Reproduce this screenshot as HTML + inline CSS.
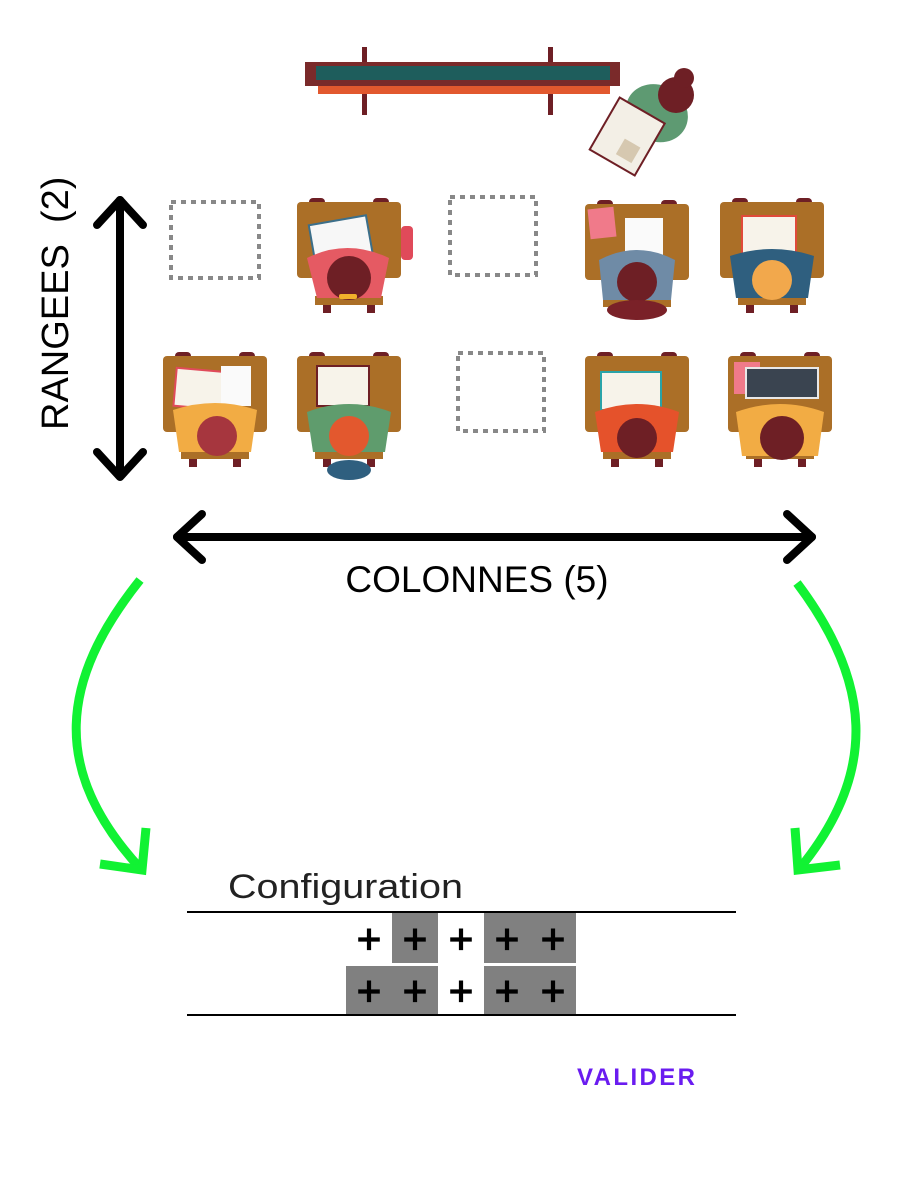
<!DOCTYPE html>
<html><head><meta charset="utf-8"><style>
html,body{margin:0;padding:0;background:#fff;}
body{width:900px;height:1200px;position:relative;overflow:hidden;font-family:"Liberation Sans",sans-serif;}
</style></head><body>
<svg width="900" height="1200" viewBox="0 0 900 1200" xmlns="http://www.w3.org/2000/svg" style="position:absolute;left:0;top:0">
<defs>
<g id="desk">
  <rect x="12" y="0" width="16" height="8" rx="4" fill="#6e1f25"/>
  <rect x="76" y="0" width="16" height="8" rx="4" fill="#6e1f25"/>
  <rect x="0" y="4" width="104" height="76" rx="4" fill="#ab6f27"/>
  <rect x="18" y="98" width="68" height="9" fill="#ab6f27"/>
  <rect x="26" y="107" width="8" height="8" fill="#6e1f25"/>
  <rect x="70" y="107" width="8" height="8" fill="#6e1f25"/>
  <rect x="30" y="80" width="44" height="18" fill="#8a5520"/>
</g>
</defs>

<rect x="362" y="47" width="5" height="68" fill="#6e1f25"/>
<rect x="548" y="47" width="5" height="68" fill="#6e1f25"/>
<rect x="305" y="62" width="315" height="24" fill="#7a2a2a"/>
<rect x="316" y="66" width="294" height="14" fill="#1e5d5c"/>
<rect x="318" y="86" width="292" height="8" fill="#e2582e"/>
<g transform="rotate(30 650 115)">
  <ellipse cx="655" cy="110" rx="32" ry="28" fill="#5e9a72"/>
  <rect x="615" y="115" width="52" height="60" fill="#f3efe6" stroke="#6e1f25" stroke-width="2"/>
  <rect x="640" y="148" width="18" height="18" fill="#d6c8b0"/>
</g>
<circle cx="676" cy="95" r="18" fill="#6e1f25"/>
<circle cx="684" cy="78" r="10" fill="#6e1f25"/>

<g fill="none" stroke="#888" stroke-width="4" stroke-dasharray="5,5">
<rect x="171" y="202" width="88" height="76"/>
<rect x="450" y="197" width="86" height="78"/>
<rect x="458" y="353" width="86" height="78"/>
</g>

<g transform="translate(297,198)"><use href="#desk"/>
  <rect x="15" y="22" width="58" height="42" fill="#f7f7f7" stroke="#3c6f8a" stroke-width="2" transform="rotate(-10 44 43)"/>
  <rect x="104" y="28" width="12" height="34" rx="4" fill="#e04a5a"/>
  <path d="M10 60 Q50 40 92 60 L84 100 L20 100Z" fill="#e55a63"/>
  <circle cx="52" cy="80" r="22" fill="#6e1f25"/>
  <rect x="42" y="96" width="18" height="5" rx="2" fill="#f1b02b"/>
</g>
<g transform="translate(585,200)"><use href="#desk"/>
  <rect x="4" y="8" width="26" height="30" fill="#f07a8a" transform="rotate(-6 17 23)"/>
  <rect x="40" y="18" width="38" height="40" fill="#fafafa"/>
  <path d="M14 60 Q52 40 90 60 L86 100 L18 100Z" fill="#6f8ba6"/>
  <circle cx="52" cy="82" r="20" fill="#6e1f25"/>
  <ellipse cx="52" cy="110" rx="30" ry="10" fill="#7a2128"/>
</g>
<g transform="translate(720,198)"><use href="#desk"/>
  <rect x="22" y="18" width="54" height="38" fill="#f7f3ea" stroke="#e04a3a" stroke-width="2"/>
  <path d="M10 58 Q52 44 94 58 L88 100 L16 100Z" fill="#2f5f7f"/>
  <circle cx="52" cy="82" r="20" fill="#f2a84c"/>
</g>

<g transform="translate(163,352)"><use href="#desk"/>
  <rect x="12" y="18" width="52" height="38" fill="#f7f3ea" stroke="#e04a5a" stroke-width="2" transform="rotate(5 38 37)"/>
  <rect x="58" y="14" width="30" height="40" fill="#fafafa"/>
  <path d="M10 58 Q52 44 94 58 L88 100 L16 100Z" fill="#f2ac44"/>
  <circle cx="54" cy="84" r="20" fill="#a6363e"/>
</g>
<g transform="translate(297,352)"><use href="#desk"/>
  <rect x="20" y="14" width="52" height="40" fill="#f7f3ea" stroke="#6e1f25" stroke-width="2"/>
  <path d="M10 60 Q52 44 94 60 L88 100 L16 100Z" fill="#5f9c6d"/>
  <circle cx="52" cy="84" r="20" fill="#e3582e"/>
  <ellipse cx="52" cy="118" rx="22" ry="10" fill="#2f5f7f"/>
</g>
<g transform="translate(585,352)"><use href="#desk"/>
  <rect x="16" y="20" width="60" height="38" fill="#f7f3ea" stroke="#2aa3a8" stroke-width="2"/>
  <path d="M10 60 Q52 44 94 60 L88 100 L16 100Z" fill="#e5522b"/>
  <circle cx="52" cy="86" r="20" fill="#6e1f25"/>
</g>
<g transform="translate(728,352)"><use href="#desk"/>
  <rect x="6" y="10" width="26" height="32" fill="#f07a8a"/>
  <rect x="18" y="16" width="72" height="30" fill="#3a4450" stroke="#e8e8e8" stroke-width="2"/>
  <path d="M8 60 Q52 44 96 60 L90 104 L14 104Z" fill="#f2ac44"/>
  <circle cx="54" cy="86" r="22" fill="#6e1f25"/>
</g>

<g stroke="#000" stroke-width="8" fill="none" stroke-linecap="round" stroke-linejoin="round">
  <line x1="120" y1="200" x2="120" y2="475"/>
  <polyline points="97,225 120,200 143,225"/>
  <polyline points="97,452 120,477 143,452"/>
  <line x1="177" y1="537" x2="812" y2="537"/>
  <polyline points="202,514 177,537 202,560"/>
  <polyline points="787,514 812,537 787,560"/>
</g>
<text transform="translate(68,430) rotate(-90)" font-family="'Liberation Sans',sans-serif" font-size="38" fill="#000" xml:space="preserve">RANGEES  (2)</text>
<text x="477" y="592" text-anchor="middle" font-family="'Liberation Sans',sans-serif" font-size="37" fill="#000">COLONNES (5)</text>

<g stroke="#11f233" stroke-width="9" fill="none" stroke-linecap="butt">
  <path d="M140 580 C 60 680, 50 770, 140 868"/>
  <polyline points="100,864 142,870 146,828"/>
  <path d="M797 583 C 870 680, 880 770, 800 868"/>
  <polyline points="840,865 798,870 795,828"/>
</g>

<text x="228" y="898" font-family="'Liberation Sans',sans-serif" font-size="34" fill="#222" textLength="235" lengthAdjust="spacingAndGlyphs">Configuration</text>
<line x1="187" y1="912" x2="736" y2="912" stroke="#000" stroke-width="2"/>
<line x1="187" y1="1015" x2="736" y2="1015" stroke="#000" stroke-width="2"/>
<rect x="392" y="913" width="46" height="50" fill="#808080"/>
<rect x="484" y="913" width="92" height="50" fill="#808080"/>
<rect x="346" y="966" width="92" height="48" fill="#808080"/>
<rect x="484" y="966" width="92" height="48" fill="#808080"/>
<g font-family="'Liberation Sans',sans-serif" font-size="42" fill="#000" stroke="#000" stroke-width="1.2" text-anchor="middle">
<text x="369" y="953">+</text><text x="415" y="953">+</text><text x="461" y="953">+</text><text x="507" y="953">+</text><text x="553" y="953">+</text>
<text x="369" y="1005">+</text><text x="415" y="1005">+</text><text x="461" y="1005">+</text><text x="507" y="1005">+</text><text x="553" y="1005">+</text>
</g>
<text x="577" y="1085" font-family="'Liberation Sans',sans-serif" font-size="24" font-weight="bold" fill="#6a1cf0" letter-spacing="2" textLength="120">VALIDER</text>
</svg>
</body></html>
